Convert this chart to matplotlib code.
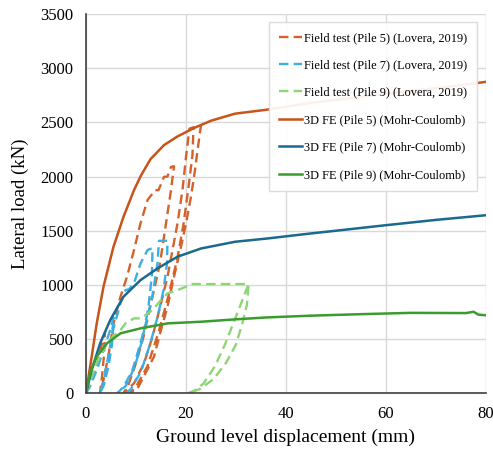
import matplotlib
matplotlib.use('Agg')
import matplotlib.pyplot as plt

plt.rcParams['font.family'] = ['Liberation Serif', 'DejaVu Serif']

# Field test (Pile 5) - cyclic loading path
p5_field_x = [0, 0.8, 2.15, 3, 3.8, 3.6, 3.2, 2.8,
              3.5, 4.5, 5.5, 6.9, 8.2, 9.6, 10.9, 12.3, 13.8, 14.5, 15.6, 16.3, 17, 17.6,
              17, 16, 14.8, 13.3, 11.5, 9.8, 8.5, 7.5,
              9.6, 11.6, 13.3, 15, 16.3, 17.3, 18.3, 19.3, 20, 20.7, 21.5,
              21.3, 20.5, 19.5, 18.3, 16.5, 14.5, 12.3, 10, 8.8,
              10.5, 13.6, 15, 16.3, 17.6, 19, 20, 21, 21.7, 22.4, 23]
p5_field_y = [0, 92, 246, 420, 560, 350, 150, 0,
              120, 350, 645, 891, 1075, 1321, 1567, 1782, 1874, 1874, 1997, 2000, 2089, 2095,
              1874, 1567, 1198, 891, 520, 250, 80, 0,
              92, 276, 522, 829, 1075, 1321, 1567, 1874, 2181, 2442, 2455,
              2200, 1900, 1560, 1250, 900, 560, 250, 60, 0,
              60, 338, 584, 799, 1075, 1352, 1567, 1813, 2027, 2273, 2473]

# Field test (Pile 7)
p7_field_x = [0, 0.8, 2.15, 3.5, 4.85, 5.5, 5.2, 4.5, 3.6, 2.8,
              3.5, 4.5, 5.5, 6.9, 7.9, 8.6, 9.6, 10.9, 12.3, 13.3,
              13.2, 12.5, 11.3, 9.8, 8, 6.3,
              7.5, 9.2, 10.5, 12, 13.3, 14.3, 14.6, 16.3,
              16.2, 15.5, 14.3, 12.8, 11, 9, 8]
p7_field_y = [0, 61, 215, 399, 584, 700, 450, 250, 80, 0,
              100, 350, 600, 829, 952, 960, 1014, 1198, 1321, 1340,
              1100, 800, 500, 250, 70, 0,
              60, 200, 400, 650, 900, 1200, 1407, 1407,
              1200, 950, 700, 450, 200, 40, 0]

# Field test (Pile 9)
p9_field_x = [0, 0.8, 2.15, 3.5, 4.2, 5.5, 6.9, 8, 9.6, 11, 13.3, 15, 16.3, 18.3, 20, 21, 32.5,
              31.2, 29.5, 27.8, 25.8, 23.5, 21.8, 20.3,
              22.8, 25.5, 28, 30, 31.3, 32.2, 32.5]
p9_field_y = [0, 100, 276, 400, 461, 530, 584, 650, 691, 691, 768, 860, 922, 952, 983, 1008, 1008,
              850, 650, 450, 250, 90, 25, 0,
              40, 130, 280, 450, 650, 820, 990]

# 3D FE curves
fe5_x = [0, 1.14, 2.15, 3.5, 5.5, 7.5, 9.6, 11, 12.9, 15.6, 18.3, 21.7, 25, 29.8, 36.2, 45, 57, 65, 72, 80]
fe5_y = [0, 338, 645, 983, 1352, 1628, 1874, 2010, 2160, 2290, 2370, 2450, 2515, 2580, 2617, 2680, 2745, 2790, 2825, 2874]
fe7_x = [0, 1.14, 2.83, 4.85, 7.5, 10.9, 14.3, 18.3, 23, 29.8, 36.2, 45, 50, 60, 70, 80]
fe7_y = [0, 215, 461, 676, 891, 1044, 1152, 1260, 1336, 1398, 1428, 1475, 1500, 1551, 1600, 1643]
fe9_x = [0, 0.8, 2.15, 4.2, 6.9, 10.9, 16.3, 23, 29.8, 36.2, 45, 55, 65, 76, 77.5, 78.5, 80]
fe9_y = [0, 184, 338, 461, 553, 599, 645, 660, 682, 700, 716, 730, 742, 740, 752, 725, 720]

fig = plt.figure(figsize=(4.93, 4.51), dpi=100)
ax = fig.add_axes([0.1744, 0.128, 0.8114, 0.841])

dash = (4, 2.2)
ax.plot(p5_field_x, p5_field_y, color='#D4622A', lw=1.7, dashes=dash, label='Field test (Pile 5) (Lovera, 2019)')
ax.plot(p7_field_x, p7_field_y, color='#3BAEE3', lw=1.7, dashes=dash, label='Field test (Pile 7) (Lovera, 2019)')
ax.plot(p9_field_x, p9_field_y, color='#8CD674', lw=1.7, dashes=dash, label='Field test (Pile 9) (Lovera, 2019)')
ax.plot(fe5_x, fe5_y, '-', color='#C8541A', lw=1.8, label='3D FE (Pile 5) (Mohr-Coulomb)')
ax.plot(fe7_x, fe7_y, '-', color='#1B6A8E', lw=1.8, label='3D FE (Pile 7) (Mohr-Coulomb)')
ax.plot(fe9_x, fe9_y, '-', color='#3A9B2F', lw=1.8, label='3D FE (Pile 9) (Mohr-Coulomb)')

ax.set_xlim(0, 80); ax.set_ylim(0, 3500)
ax.set_xticks([0, 20, 40, 60, 80]); ax.set_yticks(range(0, 3501, 500))
ax.grid(True, color='#d9d9d9', lw=1); ax.set_axisbelow(True)
for s in ['top', 'right']: ax.spines[s].set_visible(False)
for s in ['left', 'bottom']: ax.spines[s].set_color('#404040'); ax.spines[s].set_linewidth(1.2)
ax.tick_params(length=0, labelsize=12, pad=9)
ax.set_xlabel('Ground level displacement (mm)', fontsize=14, labelpad=5)
ax.set_ylabel('Lateral load (kN)', fontsize=13.5, labelpad=8)

leg = ax.legend(loc='upper right', bbox_to_anchor=(0.9775, 0.979), borderaxespad=0, fontsize=8.9,
                labelspacing=1.25, handlelength=1.9, handletextpad=0.15, borderpad=0.8,
                fancybox=False, edgecolor='#d9d9d9', framealpha=0.92)
leg.get_frame().set_linewidth(1)

fig.savefig('out.png', dpi=100)
